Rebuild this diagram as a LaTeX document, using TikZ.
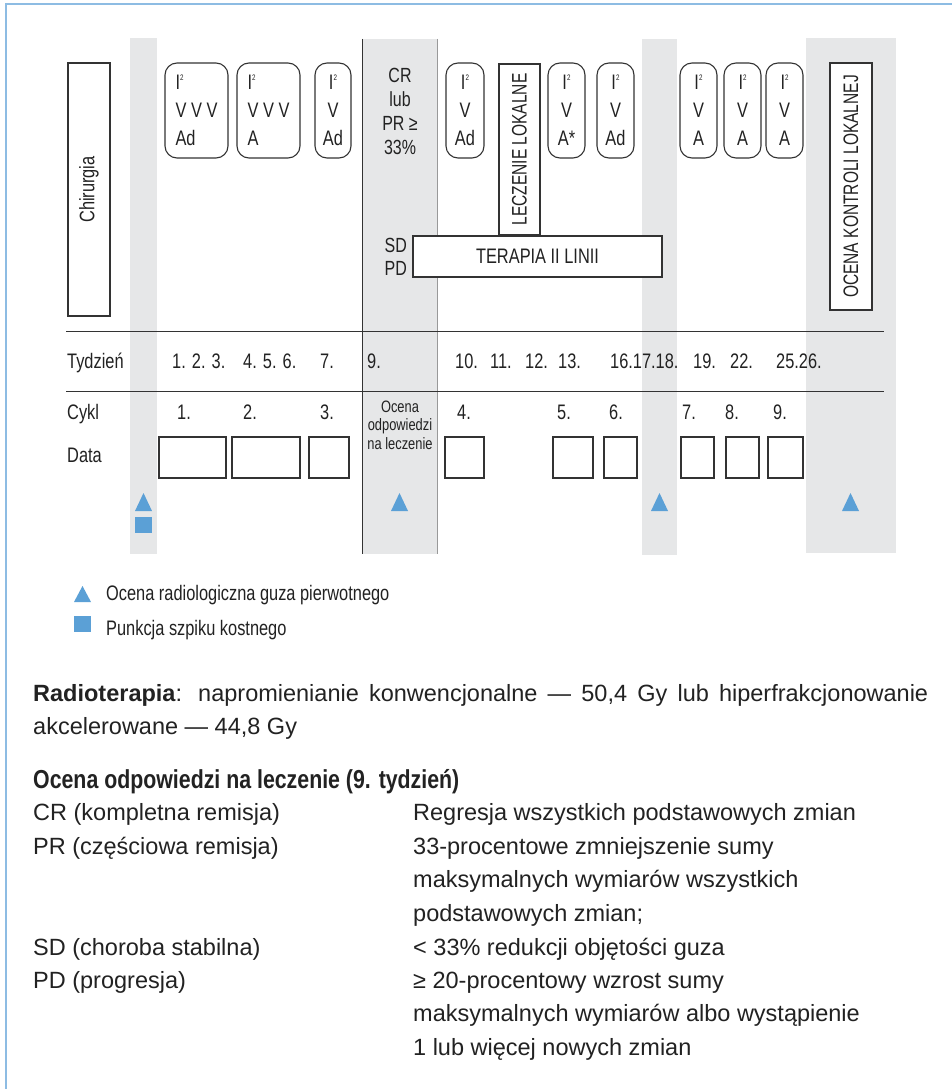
\documentclass[tikz,border=0pt]{standalone}
\usepackage{fontspec}
\setmainfont{Liberation Sans}
\newfontfamily\condf{Liberation Sans}[FakeStretch=0.78]
\newfontfamily\narrf{Liberation Sans}[FakeStretch=0.74]
\newfontfamily\headf{Liberation Sans}[FakeStretch=0.82]
\definecolor{bandgray}{HTML}{E6E7E8}
\definecolor{boxline}{HTML}{333333}
\definecolor{tricol}{HTML}{5BA0D6}
\definecolor{frameblue}{HTML}{8DBCE3}
\definecolor{txt}{HTML}{222222}
\newcommand\diagfont{\condf\fontsize{21}{28}\selectfont}
\newcommand\narrowfont{\narrf\fontsize{21}{28}\selectfont}
\newcommand\smallfont{\condf\fontsize{16.5}{18.5}\selectfont}
\newcommand\bodyfont{\fontsize{23.5}{33.5}\selectfont}
\newcommand\Isq{I\raisebox{9pt}{\fontsize{8}{8}\selectfont 2}}
\begin{document}
\begin{tikzpicture}[x=1pt,y=-1pt,
  band/.style={fill=bandgray, draw=none},
  rbox/.style={draw=boxline, fill=white, line width=1.1pt, rounded corners=12pt, inner sep=0pt, minimum height=95pt, font=\diagfont, text=txt},
  vbox/.style={draw=boxline, fill=white, line width=1.1pt, inner sep=0pt, font=\diagfont, text=txt},
  dbox/.style={draw=boxline, line width=1.1pt, inner sep=0pt, minimum height=41pt},
  rowtxt/.style={font=\diagfont, anchor=base west, inner sep=0pt, text=txt},
  bodytxt/.style={font=\bodyfont, anchor=base west, inner sep=0pt, text=txt, align=left},
  tri/.style={fill=tricol},
  hline/.style={draw=boxline, line width=1pt}
]
\useasboundingbox (0,0) rectangle (952,1089);
\fill[white] (0,0) rectangle (952,1089);
\draw[frameblue, line width=1.6pt] (6,1089) -- (6,4) -- (952,4);

% gray bands
\fill[band] (130,38) rectangle (157,554);
\fill[band] (362,39) rectangle (437,554);
\fill[band] (642,39) rectangle (677,555);
\fill[band] (806,38) rectangle (896,553);
\draw[boxline, line width=1pt] (362,39) -- (362,554);
\draw[gray!80, line width=1pt] (437,39) -- (437,554);

% horizontal rules
\draw[hline] (66,331) -- (884,331);
\draw[hline] (66,391) -- (884,391);

% vertical boxes
\node[vbox, rotate=90, minimum width=253pt, minimum height=42pt] (chir) at (89,189.5) {Chirurgia};
\node[vbox, rotate=90, minimum width=171pt, minimum height=41pt, font=\narrowfont] (lecz) at (519.5,149.5) {LECZENIE LOKALNE};
\node[vbox, rotate=90, minimum width=247pt, minimum height=42pt, font=\narrowfont] (okl) at (851,186.5) {OCENA KONTROLI LOKALNEJ};
\node[vbox, minimum width=249pt, minimum height=41pt] (ter) at (537.5,256.5) {TERAPIA II LINII};

% rounded cycle boxes
\node[rbox, minimum width=63pt, align=left] (b1) at (196.5,110.5) {\Isq\\V V V\\Ad};
\node[rbox, minimum width=63pt, align=left] (b2) at (268.5,110.5) {\Isq\\V V V\\A};
\node[rbox, minimum width=36pt, align=center] (b3) at (333,110.5) {\Isq\\V\\Ad};
\node[rbox, minimum width=38pt, align=center] (b4) at (465,110.5) {\Isq\\V\\Ad};
\node[rbox, minimum width=37pt, align=center] (b5) at (566.5,110.5) {\Isq\\V\\A*};
\node[rbox, minimum width=37pt, align=center] (b6) at (615.5,110.5) {\Isq\\V\\Ad};
\node[rbox, minimum width=37pt, align=center] (b7) at (698.5,110.5) {\Isq\\V\\A};
\node[rbox, minimum width=37pt, align=center] (b8) at (742.5,110.5) {\Isq\\V\\A};
\node[rbox, minimum width=37pt, align=center] (b9) at (784.5,110.5) {\Isq\\V\\A};

% response texts
\node[inner sep=0pt, align=center, text=txt, font={\condf\fontsize{20.5}{24}\selectfont}] (crpr) at (400,111) {CR\\lub\\PR ≥\\33\%};
\node[inner sep=0pt, align=right, text=txt, anchor=east, font={\condf\fontsize{20.5}{23.5}\selectfont}] (sdpd) at (407,257) {SD\\PD};

% week row
\node[rowtxt] (tyd) at (67,368) {Tydzień};
\node[rowtxt] (w1) at (172,368) {1. 2. 3.};
\node[rowtxt] (w2) at (243,368) {4. 5. 6.};
\node[rowtxt] (w3) at (320,368) {7.};
\node[rowtxt] (w4) at (367,368) {9.};
\node[rowtxt] (w5) at (455,368) {10.};
\node[rowtxt] (w6) at (490,368) {11.};
\node[rowtxt] (w7) at (525,368) {12.};
\node[rowtxt] (w8) at (558,368) {13.};
\node[rowtxt] (w9) at (610,368) {16.17.18.};
\node[rowtxt] (w10) at (693,368) {19.};
\node[rowtxt] (w11) at (730,368) {22.};
\node[rowtxt] (w12) at (776,368) {25.26.};

% cycle row
\node[rowtxt] (cykl) at (67,419) {Cykl};
\node[rowtxt] (c1) at (177,419) {1.};
\node[rowtxt] (c2) at (243,419) {2.};
\node[rowtxt] (c3) at (320,419) {3.};
\node[rowtxt] (c4) at (457,419) {4.};
\node[rowtxt] (c5) at (557,419) {5.};
\node[rowtxt] (c6) at (609,419) {6.};
\node[rowtxt] (c7) at (682,419) {7.};
\node[rowtxt] (c8) at (725,419) {8.};
\node[rowtxt] (c9) at (773,419) {9.};
\node[inner sep=0pt, align=center, text=txt, font=\smallfont] (ocena) at (400,425) {Ocena\\odpowiedzi\\na leczenie};

% data row
\node[rowtxt] (data) at (67,462) {Data};
\node[dbox, minimum width=67pt] (d1) at (192.5,457.5) {};
\node[dbox, minimum width=68pt] (d2) at (266,457.5) {};
\node[dbox, minimum width=40pt] (d3) at (329,457.5) {};
\node[dbox, minimum width=39pt] (d4) at (464.5,457.5) {};
\node[dbox, minimum width=40pt] (d5) at (573,457.5) {};
\node[dbox, minimum width=33pt] (d6) at (620.5,457.5) {};
\node[dbox, minimum width=33pt] (d7) at (697.5,457.5) {};
\node[dbox, minimum width=33pt] (d8) at (742.5,457.5) {};
\node[dbox, minimum width=35pt] (d9) at (785.5,457.5) {};

% markers
\fill[tri] (135,511) -- (152,511) -- (143.5,493) -- cycle;
\fill[tri] (135,517) rectangle (152,533);
\fill[tri] (391,511) -- (408,511) -- (399.5,493) -- cycle;
\fill[tri] (651,511) -- (668,511) -- (659.5,493) -- cycle;
\fill[tri] (842,511) -- (859,511) -- (850.5,493) -- cycle;

% legend
\fill[tri] (74,602) -- (91,602) -- (82.5,586) -- cycle;
\fill[tri] (74,616) rectangle (91,632);
\node[rowtxt] (leg1) at (106,600) {Ocena radiologiczna guza pierwotnego};
\node[rowtxt] (leg2) at (106,635) {Punkcja szpiku kostnego};

% radiotherapy paragraph
\node[bodytxt, text width=895pt, align=justify] (radio) at (33,701) {\textbf{Radioterapia}: napromienianie konwencjonalne — 50,4 Gy lub hiperfrakcjonowanie\linebreak akcelerowane — 44,8 Gy};

% response assessment
\node[anchor=base west, inner sep=0pt, text=txt, font={\headf\bfseries\fontsize{26}{26}\selectfont}] (head) at (33,788) {Ocena odpowiedzi na leczenie (9. tydzień)};
\node[bodytxt] (cr) at (33,820) {CR (kompletna remisja)};
\node[bodytxt] (pr) at (33,854) {PR (częściowa remisja)};
\node[bodytxt] (sd) at (33,955) {SD (choroba stabilna)};
\node[bodytxt] (pd) at (33,988) {PD (progresja)};
\node[bodytxt] (crd) at (413,820) {Regresja wszystkich podstawowych zmian};
\node[bodytxt] (prd) at (413,921) {33-procentowe zmniejszenie sumy\\maksymalnych wymiarów wszystkich\\podstawowych zmian;};
\node[bodytxt] (sdd) at (413,955) {< 33\% redukcji objętości guza};
\node[bodytxt] (pdd) at (413,1055) {≥ 20-procentowy wzrost sumy\\maksymalnych wymiarów albo wystąpienie\\1 lub więcej nowych zmian};
\end{tikzpicture}
\end{document}
